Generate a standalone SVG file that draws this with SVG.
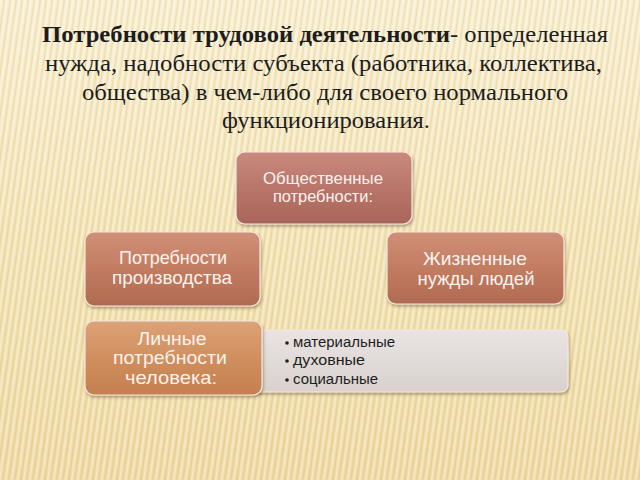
<svg xmlns="http://www.w3.org/2000/svg" width="640" height="480" viewBox="0 0 640 480">
  <style>
    .title { font-family: "Liberation Serif", "Times New Roman", serif; font-size: 24px; fill: #1c1c1c; }
    .bold { font-weight: bold; }
    .lbl { font-family: "Liberation Sans", Arial, sans-serif; fill: #fbf3ee; text-anchor: middle; }
    .big { font-size: 19px; }
    .small { font-size: 16px; }
    .item { font-family: "Liberation Sans", Arial, sans-serif; font-size: 14px; fill: #1e1e1e; }
    .box { stroke: #f6e9dc; stroke-width: 1.2; filter: url(#shadow); }
  </style>
  <defs>
    <linearGradient id="bg" x1="0" y1="0" x2="0" y2="1">
      <stop offset="0" stop-color="#f8eecf"/>
      <stop offset="0.5" stop-color="#f3e2b2"/>
      <stop offset="1" stop-color="#eed8a0"/>
    </linearGradient>
    <pattern id="stripes" width="6" height="480" patternUnits="userSpaceOnUse" patternTransform="skewX(-8)">
      <rect x="0" y="0" width="2.5" height="480" fill="#ffffff" opacity="0.35"/>
      <rect x="3.5" y="0" width="1.5" height="480" fill="#d8bf7e" opacity="0.3"/>
    </pattern>
    <linearGradient id="gTop" x1="0" y1="0" x2="0" y2="1">
      <stop offset="0" stop-color="#c98a7e"/>
      <stop offset="0.5" stop-color="#b9756a"/>
      <stop offset="1" stop-color="#a9655b"/>
    </linearGradient>
    <linearGradient id="gMid" x1="0" y1="0" x2="0" y2="1">
      <stop offset="0" stop-color="#d09078"/>
      <stop offset="0.5" stop-color="#c27c62"/>
      <stop offset="1" stop-color="#b06a52"/>
    </linearGradient>
    <linearGradient id="gLow" x1="0" y1="0" x2="0" y2="1">
      <stop offset="0" stop-color="#dda277"/>
      <stop offset="0.5" stop-color="#d08f5f"/>
      <stop offset="1" stop-color="#c47f4f"/>
    </linearGradient>
    <linearGradient id="gGrey" x1="0" y1="0" x2="0" y2="1">
      <stop offset="0" stop-color="#e9e4e2"/>
      <stop offset="1" stop-color="#d8d1ce"/>
    </linearGradient>
    <filter id="shadow" x="-10%" y="-10%" width="125%" height="130%">
      <feDropShadow dx="1" dy="2" stdDeviation="1.6" flood-color="#5a4020" flood-opacity="0.45"/>
    </filter>
  </defs>

  <rect x="0" y="0" width="640" height="480" fill="url(#bg)"/>
  <rect x="0" y="0" width="640" height="480" fill="url(#stripes)"/>

  <g id="title">
    <text class="title bold" x="42" y="42" textLength="408" lengthAdjust="spacingAndGlyphs">Потребности трудовой деятельности</text>
    <text class="title" x="450" y="42" textLength="158" lengthAdjust="spacingAndGlyphs">- определенная</text>
    <text class="title" x="45" y="71" textLength="557" lengthAdjust="spacingAndGlyphs">нужда, надобности субъекта (работника, коллектива,</text>
    <text class="title" x="82" y="100" textLength="486" lengthAdjust="spacingAndGlyphs">общества) в чем-либо для своего нормального</text>
    <text class="title" x="222" y="128" textLength="208" lengthAdjust="spacingAndGlyphs">функционирования.</text>
  </g>

  <g id="connectors"></g>

  <g id="node-social">
    <rect class="box" x="236" y="152" width="176" height="72" rx="9" fill="url(#gTop)"/>
    <text class="lbl small" x="323" y="184" textLength="120" lengthAdjust="spacingAndGlyphs">Общественные</text>
    <text class="lbl small" x="323" y="202" textLength="100" lengthAdjust="spacingAndGlyphs">потребности:</text>
  </g>

  <g id="node-production">
    <rect class="box" x="85" y="232" width="175" height="74" rx="9" fill="url(#gMid)"/>
    <text class="lbl big" x="173" y="264" textLength="108" lengthAdjust="spacingAndGlyphs">Потребности</text>
    <text class="lbl big" x="172" y="284" textLength="120" lengthAdjust="spacingAndGlyphs">производства</text>
  </g>

  <g id="node-life">
    <rect class="box" x="387" y="232" width="177" height="72" rx="9" fill="url(#gMid)"/>
    <text class="lbl big" x="475" y="265" textLength="104" lengthAdjust="spacingAndGlyphs">Жизненные</text>
    <text class="lbl big" x="476" y="285" textLength="117" lengthAdjust="spacingAndGlyphs">нужды людей</text>
  </g>

  <g id="node-personal-list">
    <rect class="box" x="250" y="330" width="318" height="62" rx="7" fill="url(#gGrey)"/>
    <circle cx="287" cy="343" r="1.8" fill="#1e1e1e"/>
    <text class="item" x="293" y="347" textLength="102" lengthAdjust="spacingAndGlyphs">материальные</text>
    <circle cx="287" cy="361" r="1.8" fill="#1e1e1e"/>
    <text class="item" x="293" y="365" textLength="72" lengthAdjust="spacingAndGlyphs">духовные</text>
    <circle cx="287" cy="380" r="1.8" fill="#1e1e1e"/>
    <text class="item" x="293" y="384" textLength="85" lengthAdjust="spacingAndGlyphs">социальные</text>
  </g>

  <g id="node-personal">
    <rect class="box" x="85" y="321" width="177" height="74" rx="9" fill="url(#gLow)"/>
    <text class="lbl big" x="172" y="345" textLength="69" lengthAdjust="spacingAndGlyphs">Личные</text>
    <text class="lbl big" x="170" y="364" textLength="114" lengthAdjust="spacingAndGlyphs">потребности</text>
    <text class="lbl big" x="171" y="384" textLength="92" lengthAdjust="spacingAndGlyphs">человека:</text>
  </g>
</svg>
